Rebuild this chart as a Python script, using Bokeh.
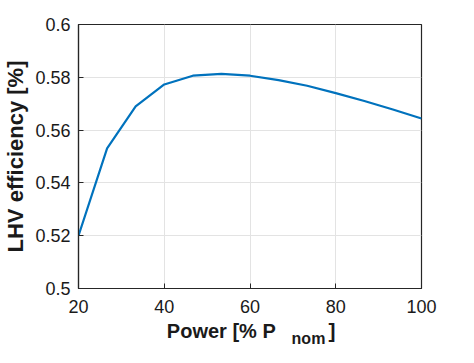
from bokeh.plotting import figure
from bokeh.models import Range1d, FixedTicker, Label
from bokeh.layouts import column
from bokeh.embed import file_html
from bokeh.resources import INLINE

power = [20, 26.67, 33.33, 40, 46.67, 53.33, 60, 66.67, 73.33, 80, 86.67, 93.33, 100]
efficiency = [0.5200, 0.5531, 0.5690, 0.5773, 0.5806, 0.5813, 0.5806, 0.5789, 0.5768, 0.5740, 0.5710, 0.5678, 0.5644]

x_ticks = [20, 40, 60, 80, 100]
y_ticks = [0.5, 0.52, 0.54, 0.56, 0.58, 0.6]
y_tick_labels = ["0.5", "0.52", "0.54", "0.56", "0.58", "0.6"]

FONT = "Liberation Sans"
AX = "#262626"
TXT = "#1a1a1a"
BL, BR = 68, 37

p = figure(width=458, height=318, output_backend="svg", toolbar_location=None,
           x_range=Range1d(20, 100), y_range=Range1d(0.5, 0.6),
           min_border_left=BL, min_border_right=BR, min_border_top=24, min_border_bottom=30)
p.background_fill_color = "white"
p.border_fill_color = "white"
p.outline_line_color = AX
p.outline_line_width = 1.2

p.line(power, efficiency, line_color="#0072BD", line_width=2.2)

p.xaxis.ticker = FixedTicker(ticks=x_ticks)
p.yaxis.ticker = FixedTicker(ticks=y_ticks)
p.yaxis.major_label_overrides = {t: l for t, l in zip(y_ticks, y_tick_labels)}
p.xaxis.major_label_overrides = {t: str(t) for t in x_ticks}

for ax in (p.xaxis[0], p.yaxis[0]):
    ax.axis_line_color = AX
    ax.axis_line_width = 1.2
    ax.major_tick_in = 5
    ax.major_tick_out = 0
    ax.major_tick_line_color = AX
    ax.minor_tick_line_color = None
    ax.major_label_text_font = FONT
    ax.major_label_text_font_size = "18px"
    ax.major_label_text_color = TXT

p.xaxis.major_label_standoff = 11
p.yaxis.major_label_standoff = 8

p.yaxis.axis_label = "LHV efficiency [%]"
p.yaxis.axis_label_text_font = FONT
p.yaxis.axis_label_text_font_style = "bold"
p.yaxis.axis_label_text_font_size = "22px"
p.yaxis.axis_label_text_color = TXT
p.yaxis.axis_label_standoff = 4

p.xgrid.grid_line_color = "#e3e3e3"
p.ygrid.grid_line_color = "#e3e3e3"

# x-axis title strip (with subscript): same horizontal scale as the plot
q = figure(width=458, height=29, output_backend="svg", toolbar_location=None,
           x_range=p.x_range, y_range=Range1d(0, 29),
           x_axis_location=None, y_axis_location=None,
           min_border_left=BL, min_border_right=BR, min_border_top=0, min_border_bottom=0)
q.grid.visible = False
q.outline_line_color = None
q.background_fill_color = "white"
q.border_fill_color = "white"

common = dict(text_font=FONT, text_font_style="bold", text_color=TXT,
              text_baseline="alphabetic", text_align="left")
q.add_layout(Label(x=40.6, y=17, text="Power [% P", text_font_size="20px", **common))
q.add_layout(Label(x=69.7, y=9, text="nom", text_font_size="16px", **common))
q.add_layout(Label(x=78.3, y=17, text="]", text_font_size="21px", **common))

layout = column(p, q, spacing=0)
open("out.html", "w").write(file_html(layout, INLINE))
